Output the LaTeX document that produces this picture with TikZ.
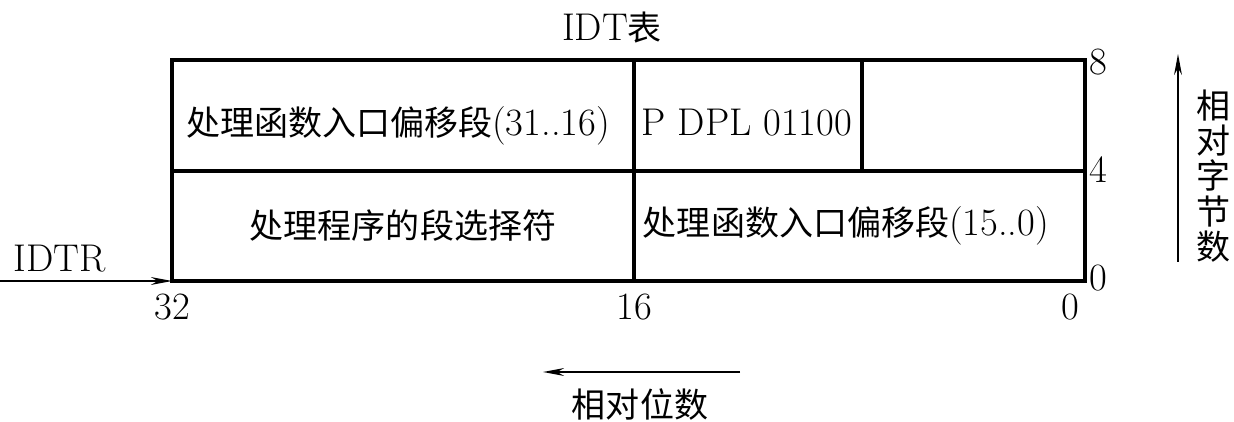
\documentclass[tikz,border=0pt]{standalone}
\usepackage{fontspec}
\newfontfamily\cjk[Scale=0.88]{Noto Sans CJK SC}
\usetikzlibrary{arrows.meta}

\begin{document}
\begin{tikzpicture}[
    x=0.02cm, y=-0.02cm,
    >=Stealth,
    frame/.style={draw, line width=2pt},
    txt/.style={inner sep=0pt, font=\fontsize{22}{26}\selectfont},
    arr/.style={->, line width=0.8pt, >={Stealth[length=12pt, width=4.5pt]}}
]
    \useasboundingbox (0,0) rectangle (1234,422);

    % descriptor frame
    \draw[frame] (172,60) rectangle (1085,281);
    \draw[frame] (172,171) -- (1085,171);
    \draw[frame] (634,60) -- (634,281);
    \draw[frame] (862,60) -- (862,171);

    % cells
    \node[txt] (offhi) at (398,126) {{\cjk 处理函数入口偏移段}(31..16)};
    \node[txt] (attr) at (747,123) {P DPL 01100};
    \node[txt] (sel) at (403,226) {\cjk 处理程序的段选择符};
    \node[txt] (offlo) at (846,226) {{\cjk 处理函数入口偏移段}(15..0)};

    % title
    \node[txt] (title) at (612,28) {IDT{\cjk 表}};

    % byte marks
    \node[txt, anchor=west] (b8) at (1089,62) {8};
    \node[txt, anchor=west] (b4) at (1089,170) {4};
    \node[txt, anchor=west] (b0) at (1089,278) {0};

    % bit marks
    \node[txt] (bit32) at (172,307) {32};
    \node[txt] (bit16) at (634,307) {16};
    \node[txt] (bit0) at (1070,307) {0};

    % IDTR pointer
    \node[txt] (idtr) at (60,259) {IDTR};
    \coordinate (idtrs) at (0,281);
    \coordinate (base) at (172,281);
    \draw[arr] (idtrs) -- (base);

    % byte direction
    \coordinate (bytelo) at (1178,262);
    \coordinate (bytehi) at (1178,54);
    \draw[arr] (bytelo) -- (bytehi);
    \node[txt, align=center, font=\cjk\fontsize{22}{20}\selectfont] (bytes) at (1213,176) {相\\对\\字\\节\\数};

    % bit direction
    \coordinate (bitlo) at (740,372);
    \coordinate (bithi) at (543,372);
    \draw[arr] (bitlo) -- (bithi);
    \node[txt] (bits) at (640,405) {\cjk 相对位数};
\end{tikzpicture}
\end{document}
